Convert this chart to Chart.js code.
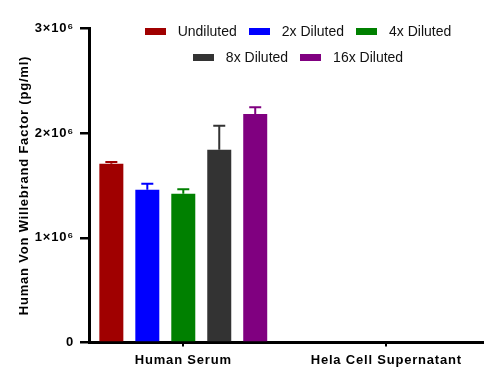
<!DOCTYPE html>
<html><head><meta charset="utf-8">
<script src="https://cdn.jsdelivr.net/npm/chart.js@4/dist/chart.umd.min.js"></script>
<style>
html,body{margin:0;padding:0;background:#fff;}
#wrap{position:relative;width:492px;height:381px;}
#legend{position:absolute;left:138px;top:18px;width:320px;display:flex;flex-wrap:wrap;justify-content:center;column-gap:12px;font-family:'Liberation Sans',Arial,sans-serif;font-size:14px;color:#111;}
.item{display:flex;align-items:center;height:26px;white-space:nowrap;}
.box{width:21px;height:7px;margin-right:12px;}
</style></head><body>
<div id="wrap"><canvas id="c" width="492" height="381"></canvas><div id="legend"></div></div>
<script>
const categories = ['Human Serum', 'Hela Cell Supernatant'];
const seriesLabels = ['Undiluted', '2x Diluted', '4x Diluted', '8x Diluted', '16x Diluted'];
const seriesColors = ['#A00000', '#0000FF', '#008000', '#333333', '#800080'];
const undilutedValues = [1707000, null];
const dil2xValues = [1460000, null];
const dil4xValues = [1422000, null];
const dil8xValues = [1841000, null];
const dil16xValues = [2184000, null];
const undilutedErrors = [17000, null];
const dil2xErrors = [57000, null];
const dil4xErrors = [41000, null];
const dil8xErrors = [229000, null];
const dil16xErrors = [64000, null];
const yTickLabels = ['0', '1×10⁶', '2×10⁶', '3×10⁶'];
const yTitle = 'Human Von Willebrand Factor (pg/ml)';

const seriesValues = [undilutedValues, dil2xValues, dil4xValues, dil8xValues, dil16xValues];
const seriesErrors = [undilutedErrors, dil2xErrors, dil4xErrors, dil8xErrors, dil16xErrors];

Chart.defaults.font.family = "'Liberation Sans', Arial, sans-serif";
Chart.defaults.color = '#000';

const spacing = {
  id: 'spacing',
  beforeUpdate(chart) { chart.ctx.letterSpacing = '0.8px'; },
  beforeDraw(chart) { chart.ctx.letterSpacing = '0.8px'; }
};

const errorBars = {
  id: 'errorBars',
  afterDatasetsDraw(chart) {
    const ctx = chart.ctx;
    const yScale = chart.scales.y;
    chart.data.datasets.forEach((ds, di) => {
      const meta = chart.getDatasetMeta(di);
      meta.data.forEach((bar, i) => {
        const v = ds.data[i], e = ds.errors[i];
        if (v == null || e == null) return;
        const yTop = yScale.getPixelForValue(v + e);
        const half = bar.width / 4;
        ctx.save();
        ctx.strokeStyle = ds.backgroundColor;
        ctx.lineWidth = 2;
        ctx.beginPath();
        ctx.moveTo(bar.x, bar.y);
        ctx.lineTo(bar.x, yTop);
        ctx.moveTo(bar.x - half, yTop);
        ctx.lineTo(bar.x + half, yTop);
        ctx.stroke();
        ctx.restore();
      });
    });
  }
};

const datasets = seriesLabels.map((label, i) => ({
  label,
  data: seriesValues[i],
  errors: seriesErrors[i],
  backgroundColor: seriesColors[i],
  borderWidth: 0,
  categoryPercentage: 0.886,
  barPercentage: 0.667
}));

new Chart(document.getElementById('c'), {
  type: 'bar',
  data: { labels: categories, datasets },
  options: {
    responsive: false,
    animation: false,
    devicePixelRatio: 1,
    layout: { padding: { top: 28.5, right: 9, left: 0, bottom: 0 } },
    plugins: { legend: { display: false }, tooltip: { enabled: false } },
    scales: {
      x: {
        offset: true,
        ticks: { color: '#000', font: { size: 13, weight: 'bold' }, padding: 6, maxRotation: 0, autoSkip: false },
        grid: { drawOnChartArea: false, offset: false, color: '#000', tickLength: 4, tickWidth: 2, lineWidth: 2 },
        border: { color: '#000', width: 3 },
        afterBuildTicks: s => { s._startValue = -0.4645; s._valueRange = 1.941; },
        afterFit: s => { s.height = 38.5; }
      },
      y: {
        min: 0, max: 3000000,
        ticks: { stepSize: 1000000, color: '#000', font: { size: 13, weight: 'bold' }, padding: 6,
                 callback: (v, i) => yTickLabels[i] },
        grid: { drawOnChartArea: false, color: '#000', tickLength: 9, tickWidth: 2.5, lineWidth: 2.5 },
        border: { color: '#000', width: 3 },
        title: { display: true, text: yTitle, color: '#000', font: { size: 13, weight: 'bold' }, padding: { top: 16.2, bottom: 0 } },
        afterFit: s => { s.width = 89; }
      }
    }
  },
  plugins: [spacing, errorBars]
});

const legendEl = document.getElementById('legend');
seriesLabels.forEach((label, i) => {
  const item = document.createElement('div');
  item.className = 'item';
  const box = document.createElement('span');
  box.className = 'box';
  box.style.background = seriesColors[i];
  const txt = document.createElement('span');
  txt.textContent = label;
  item.appendChild(box);
  item.appendChild(txt);
  legendEl.appendChild(item);
});
</script>
</body></html>
